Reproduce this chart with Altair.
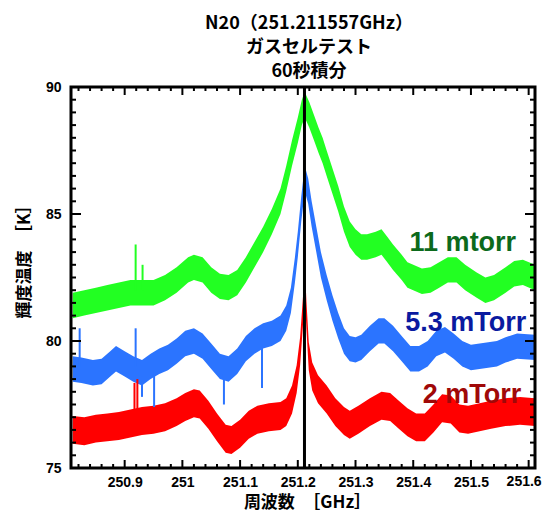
import altair as alt
import pandas as pd
import numpy as np

# ---------------- data ----------------
series_names = ["11 mtorr", "5.3 mTorr", "2 mTorr"]
series_colors = ["#22ff22", "#2b74ff", "#ff0000"]
label_colors = ["#0c6a1c", "#0a1aa0", "#a00808"]

g_x = [250.810, 250.83, 250.85, 250.87, 250.89, 250.91, 250.93, 250.95, 250.97, 250.99,
       251.01, 251.02, 251.035, 251.05, 251.065, 251.08, 251.095, 251.11, 251.125, 251.14,
       251.155, 251.17, 251.18, 251.19, 251.2, 251.207, 251.212, 251.22, 251.228, 251.236,
       251.243, 251.25, 251.26, 251.27, 251.28, 251.29, 251.30, 251.31, 251.32, 251.335,
       251.345, 251.355, 251.365, 251.38, 251.39, 251.40, 251.415, 251.43, 251.445, 251.46,
       251.475, 251.49, 251.51, 251.525, 251.54, 251.56, 251.575, 251.59, 251.611]
g_y = [81.4, 81.5, 81.6, 81.7, 81.8, 81.9, 81.9, 81.9, 82.1, 82.4,
       82.8, 82.9, 82.8, 82.4, 82.15, 82.1, 82.3, 82.8, 83.4, 84.0,
       84.7, 85.5, 86.4, 87.4, 88.3, 89.0, 89.3, 88.9, 88.4, 87.9,
       87.5, 87.0, 86.3, 85.6, 84.8, 84.2, 83.9, 83.7, 83.7, 83.8,
       83.9, 83.6, 83.3, 82.9, 82.6, 82.5, 82.35, 82.4, 82.6, 82.8,
       82.8, 82.5, 82.2, 82.0, 82.1, 82.4, 82.65, 82.7, 82.5]

b_x = [250.810, 250.825, 250.845, 250.86, 250.875, 250.885, 250.90, 250.915, 250.93, 250.945,
       250.96, 250.975, 250.99, 251.005, 251.02, 251.035, 251.05, 251.065, 251.08, 251.095,
       251.11, 251.125, 251.14, 251.155, 251.17, 251.18, 251.188, 251.195, 251.2, 251.206,
       251.212, 251.218, 251.224, 251.232, 251.24, 251.25, 251.26, 251.27, 251.28, 251.29,
       251.30, 251.31, 251.325, 251.34, 251.35, 251.365, 251.38, 251.395, 251.41, 251.425,
       251.44, 251.455, 251.47, 251.485, 251.50, 251.515, 251.53, 251.545, 251.56, 251.58, 251.611]
b_y = [78.9, 78.85, 78.75, 78.8, 79.1, 79.3, 79.1, 78.9, 78.75, 79.0,
       79.2, 79.35, 79.6, 79.9, 80.0, 79.8, 79.4, 79.0, 78.9, 79.2,
       79.7, 80.0, 80.2, 80.3, 80.5, 80.9, 81.6, 82.8, 83.8, 85.2,
       86.4, 85.9, 85.0, 84.0, 83.0, 82.1, 81.3, 80.6, 80.0, 79.7,
       79.65, 79.75, 80.1, 80.4, 80.4, 80.1, 79.7, 79.3, 79.3, 79.5,
       79.9, 80.05, 79.8, 79.5, 79.35, 79.4, 79.45, 79.5, 79.65, 79.8, 79.75]

r_x = [250.810, 250.83, 250.85, 250.87, 250.89, 250.91, 250.93, 250.95, 250.97, 250.99,
       251.005, 251.02, 251.03, 251.045, 251.06, 251.075, 251.085, 251.10, 251.115, 251.13,
       251.15, 251.17, 251.18, 251.19, 251.198, 251.204, 251.209, 251.212, 251.215, 251.219,
       251.225, 251.235, 251.25, 251.265, 251.28, 251.29, 251.305, 251.325, 251.345, 251.36,
       251.375, 251.39, 251.405, 251.42, 251.435, 251.45, 251.465, 251.48, 251.495, 251.515,
       251.535, 251.56, 251.585, 251.611]
r_y = [76.5, 76.45, 76.55, 76.6, 76.65, 76.75, 76.85, 76.9, 77.0, 77.2,
       77.4, 77.55, 77.5, 77.1, 76.6, 76.15, 76.1, 76.35, 76.7, 76.9,
       77.0, 77.05, 77.2, 77.7, 78.5, 79.6, 81.2, 82.5, 81.0, 79.4,
       78.6, 78.1, 77.7, 77.2, 76.85, 76.7, 76.9, 77.2, 77.45, 77.4,
       77.1, 76.8, 76.6, 76.6, 76.95, 77.35, 77.3, 76.95, 76.9, 77.0,
       77.1, 77.2, 77.25, 77.2]

# isolated noise spikes: series, x, from, to
spike_series = ["11 mtorr", "11 mtorr", "5.3 mTorr", "5.3 mTorr", "5.3 mTorr", "5.3 mTorr",
                "5.3 mTorr", "5.3 mTorr", "2 mTorr", "2 mTorr"]
spike_x = [250.919, 250.931, 250.822, 250.919, 250.930, 250.951, 251.072, 251.138, 250.917, 250.922]
spike_y0 = [82.0, 82.0, 79.0, 79.0, 78.6, 78.8, 78.7, 80.0, 76.8, 76.8]
spike_y1 = [83.8, 83.0, 80.5, 80.5, 77.8, 77.4, 77.5, 78.15, 78.35, 78.5]

rest_freq = 251.211557

x_major = [250.9, 251.0, 251.1, 251.2, 251.3, 251.4, 251.5, 251.6]
x_last_label = "251.6"
y_major = [75, 80, 85, 90]

# ---------------- build tables ----------------
half_band = {"11 mtorr": 0.5, "5.3 mTorr": 0.5, "2 mTorr": 0.55}
rows = []
for name, xs_, ys_ in [(series_names[0], g_x, g_y), (series_names[1], b_x, b_y), (series_names[2], r_x, r_y)]:
    for xv, yv in zip(xs_, ys_):
        rows.append({"s": name, "x": xv, "lo": yv - half_band[name], "hi": yv + half_band[name]})
df = pd.DataFrame(rows)
spikes = pd.DataFrame({"s": spike_series, "x": spike_x, "y0": spike_y0, "y1": spike_y1})

x_minor = [float(v) for v in np.round(np.arange(250.82, 251.6001, 0.02), 2) if not np.any(np.isclose(v, x_major))]
y_minor = [float(v) for v in np.arange(75.5, 90, 0.5) if v not in y_major]
dxmaj = pd.DataFrame({"v": x_major})
dxmin = pd.DataFrame({"v": x_minor})
dymaj = pd.DataFrame({"v": y_major})
dymin = pd.DataFrame({"v": y_minor})

W, H = 464, 381
xs = alt.Scale(domain=[250.807, 251.611], nice=False, zero=False)
ys = alt.Scale(domain=[75, 90], nice=False, zero=False)
cs = alt.Scale(domain=series_names, range=series_colors)

NUMFONT = "Liberation Sans"
JPFONT = "Noto Sans CJK JP"

LABEL_PAD = 7

xaxis = alt.Axis(
    values=x_major, format="~g", title="周波数　［GHz］", grid=False, domain=False,
    ticks=False, labelFont=NUMFONT, labelFontSize=14, labelFontWeight="bold",
    labelColor="black", labelPadding=LABEL_PAD, titleFont=JPFONT, titleFontSize=17,
    titleFontWeight="bold", titleColor="black", titlePadding=5, labelFlush=False,
    labelExpr="datum.value >= 251.59 ? '' : datum.label", titleX=236)
yaxis = alt.Axis(
    values=y_major, title="輝度温度　［K］", grid=False, domain=False, ticks=False,
    labelFont=NUMFONT, labelFontSize=14, labelFontWeight="bold", labelColor="black",
    labelPadding=10, titleFont=JPFONT, titleFontSize=17, titleFontWeight="bold",
    titleColor="black", titlePadding=12, titleY=170, labelFlush=False)

bands = alt.Chart(df).mark_area(clip=True, opacity=1).encode(
    x=alt.X("x:Q", scale=xs, axis=xaxis),
    y=alt.Y("lo:Q", scale=ys, axis=yaxis),
    y2="hi:Q",
    color=alt.Color("s:N", scale=cs, legend=None),
)

spike_layer = alt.Chart(spikes).mark_rule(clip=True, strokeWidth=2).encode(
    x=alt.X("x:Q", scale=xs, axis=xaxis),
    y=alt.Y("y0:Q", scale=ys, axis=yaxis),
    y2="y1:Q",
    color=alt.Color("s:N", scale=cs, legend=None),
)

vline = alt.Chart(pd.DataFrame({"f": [rest_freq]})).mark_rule(color="black", strokeWidth=3).encode(
    x=alt.X("f:Q", scale=xs, axis=xaxis))

frame = alt.Chart(pd.DataFrame({"k": [0]})).mark_rect(
    fill=None, fillOpacity=0, stroke="black", strokeWidth=3).encode(
    x=alt.value(0), x2=alt.value(W), y=alt.value(0), y2=alt.value(H))

last_label = alt.Chart(pd.DataFrame({"t": [x_last_label]})).mark_text(
    font=NUMFONT, fontSize=14, fontWeight="bold", color="black", align="right",
    baseline="top", dx=13, dy=LABEL_PAD).encode(
    text="t:N", x=alt.datum(x_major[-1], scale=xs), y=alt.value(H))


def xticks(d, length):
    bottom = alt.Chart(d).mark_rule(color="black", strokeWidth=2).encode(
        x=alt.X("v:Q", scale=xs, axis=xaxis), y=alt.value(H), y2=alt.value(H - length))
    top = alt.Chart(d).mark_rule(color="black", strokeWidth=2).encode(
        x=alt.X("v:Q", scale=xs, axis=xaxis), y=alt.value(0), y2=alt.value(length))
    return [bottom, top]


def yticks(d, length):
    left = alt.Chart(d).mark_rule(color="black", strokeWidth=2).encode(
        y=alt.Y("v:Q", scale=ys, axis=yaxis), x=alt.value(0), x2=alt.value(length))
    right = alt.Chart(d).mark_rule(color="black", strokeWidth=2).encode(
        y=alt.Y("v:Q", scale=ys, axis=yaxis), x=alt.value(W), x2=alt.value(W - length))
    return [left, right]


def label(i, xd, yd):
    return alt.Chart(pd.DataFrame({"t": [series_names[i]]})).mark_text(
        font=NUMFONT, fontSize=27, fontWeight="bold", color=label_colors[i],
        align="center", baseline="middle").encode(
        text="t:N", x=alt.datum(xd, scale=xs), y=alt.datum(yd, scale=ys))


layers = [bands, spike_layer, vline, frame]
layers += xticks(dxmaj, 8) + xticks(dxmin, 4) + yticks(dymaj, 10) + yticks(dymin, 5)
layers += [label(0, 251.486, 83.86), label(1, 251.491, 80.71), label(2, 251.502, 77.87), last_label]

chart = alt.layer(*layers).properties(
    width=W, height=H,
    title=alt.TitleParams(
        text=["N20（251.211557GHz）", "ガスセルテスト", "60秒積分"],
        font=JPFONT, fontSize=18, fontWeight="bold", color="black",
        lineHeight=24, offset=9, dy=10, anchor="middle", dx=6),
    autosize=alt.AutoSizeParams(type="none"),
    padding={"left": 63, "top": 79, "right": 8, "bottom": 47},
).configure_view(stroke="black", strokeWidth=3).configure(background="white")

chart.save("out.html", embed_options={"renderer": "svg", "actions": False})
